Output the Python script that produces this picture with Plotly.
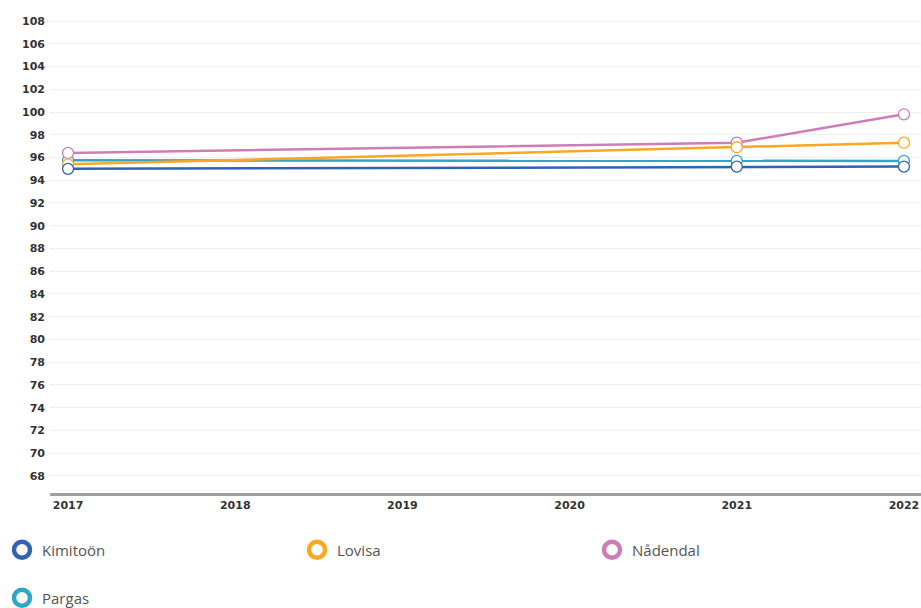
import plotly.graph_objects as go

years = [2017, 2021, 2022]
series_names = ["Kimitoön", "Lovisa", "Nådendal", "Pargas"]
kimitoon = [95.0, 95.2, 95.2]
lovisa = [95.4, 96.9, 97.3]
nadendal = [96.4, 97.3, 99.8]
pargas = [95.75, 95.7, 95.7]
values = [kimitoon, lovisa, nadendal, pargas]
colors = ["#3263b3", "#fca723", "#cf7db6", "#30a6c6"]
x_ticks = [2017, 2018, 2019, 2020, 2021, 2022]
y_ticks = list(range(68, 109, 2))

fig = go.Figure()
draw_order = [3, 2, 1, 0]
for i in draw_order:
    fig.add_trace(go.Scatter(
        x=years, y=values[i], mode="lines+markers", name=series_names[i],
        line=dict(color=colors[i], width=2.5),
        marker=dict(symbol="circle", size=11, color="white",
                    line=dict(color=colors[i], width=1.3)),
        showlegend=False, legendgroup=series_names[i],
        hovertemplate="%{x}: %{y}<extra>" + series_names[i] + "</extra>",
    ))

legend_ids = ["legend", "legend2", "legend3", "legend4"]
for i, nm in enumerate(series_names):
    fig.add_trace(go.Scatter(
        x=[None], y=[None], mode="markers", name=nm,
        marker=dict(symbol="circle-open", size=16, color=colors[i],
                    line=dict(width=4.5, color=colors[i])),
        legendgroup=nm, showlegend=True, legend=legend_ids[i],
    ))

legend_font = dict(family="Open Sans", size=15, color="#555555")
legend_pos = [(2, 550), (297, 550), (592, 550), (2, 598)]
legend_layouts = {}
for lid, (px, py) in zip(legend_ids, legend_pos):
    legend_layouts[lid] = dict(
        orientation="h", xref="container", yref="container",
        x=px / 921, xanchor="left", y=1 - py / 608, yanchor="middle",
        font=legend_font, itemclick=False, itemdoubleclick=False,
    )

fig.update_layout(
    width=921, height=608,
    margin=dict(l=50, r=0, t=15, b=115),
    paper_bgcolor="white", plot_bgcolor="white",
    font=dict(family="Open Sans", color="#555555"),
    xaxis=dict(
        range=[2016.892, 2022.102], tickvals=x_ticks, ticktext=[str(v) for v in x_ticks],
        showgrid=False, zeroline=False, showline=True, linecolor="#a0a0a0", linewidth=2.5,
        ticks="", tickfont=dict(family="DejaVu Sans", size=11, color="#333333", weight="bold"),
        automargin=False,
    ),
    yaxis=dict(
        range=[66.5, 108.53], tickvals=y_ticks, ticktext=[str(v) for v in y_ticks],
        showgrid=True, gridcolor="#eeeeee", gridwidth=1, zeroline=False, showline=False,
        ticks="", tickfont=dict(family="DejaVu Sans", size=11, color="#333333", weight="bold"),
        automargin=False, ticklabelstandoff=4,
    ),
    **legend_layouts,
)

fig.write_html("out.html")
